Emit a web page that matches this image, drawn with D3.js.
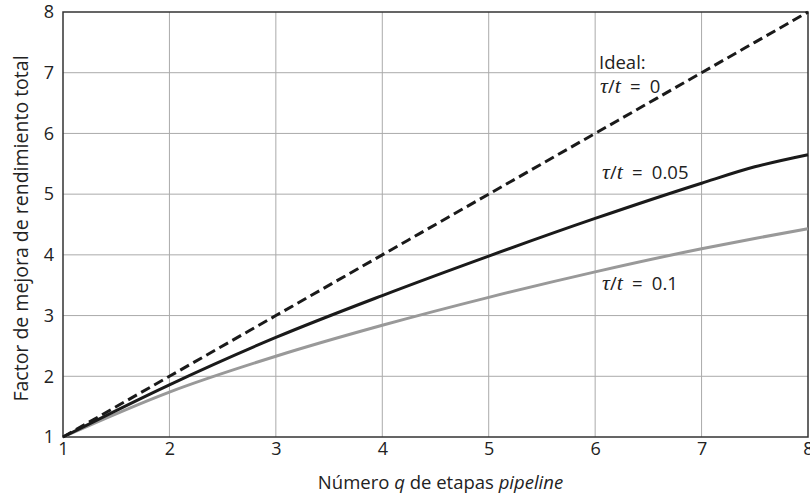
<!DOCTYPE html>
<html><head><meta charset="utf-8">
<script src="https://cdn.jsdelivr.net/npm/d3@7"></script>
<style>body{margin:0;background:#fff}svg{display:block}text{font-family:"Open Sans",Lato,sans-serif;fill:#222}</style>
</head><body><svg id="c" width="810" height="498"></svg>
<script>
const qValues = [1, 2, 3, 4, 5, 6, 7, 7.5, 8];
const ideal = [1, 2, 3, 4, 5, 6, 7, 7.5, 8];
const ratio005 = [1, 1.86, 2.64, 3.33, 3.98, 4.6, 5.18, 5.45, 5.65];
const ratio01 = [1, 1.74, 2.33, 2.84, 3.3, 3.72, 4.1, 4.27, 4.43];
const xTicks = [1, 2, 3, 4, 5, 6, 7, 8];
const yTicks = [1, 2, 3, 4, 5, 6, 7, 8];

const svg = d3.select("#c");
const m = {l: 63, r: 2, t: 12, b: 61};
const W = 810, H = 498;
const x = d3.scaleLinear().domain([1, 8]).range([m.l, W - m.r]);
const y = d3.scaleLinear().domain([1, 8]).range([H - m.b, m.t]);

// grid
svg.append("g").selectAll("line").data(xTicks.slice(1, -1)).join("line")
  .attr("x1", d => x(d)).attr("x2", d => x(d)).attr("y1", y(1)).attr("y2", y(8))
  .attr("stroke", "#aaa").attr("stroke-width", 1);
svg.append("g").selectAll("line").data(yTicks.slice(1, -1)).join("line")
  .attr("y1", d => y(d)).attr("y2", d => y(d)).attr("x1", x(1)).attr("x2", x(8))
  .attr("stroke", "#aaa").attr("stroke-width", 1);

// axes
const xa = svg.append("g").attr("transform", `translate(0,${y(1)})`)
  .call(d3.axisBottom(x).tickValues(xTicks).tickFormat(d3.format("d")).tickSize(0).tickPadding(5));
xa.select(".domain").remove();
xa.selectAll("text").attr("font-size", 18).style("font-family", "'Open Sans',sans-serif").attr("fill", "#222");
const ya = svg.append("g").attr("transform", `translate(${x(1)},0)`)
  .call(d3.axisLeft(y).tickValues(yTicks).tickFormat(d3.format("d")).tickSize(0).tickPadding(9));
ya.select(".domain").remove();
ya.selectAll("text").attr("font-size", 18).style("font-family", "'Open Sans',sans-serif").attr("fill", "#222");

// frame
svg.append("rect").attr("x", x(1)).attr("y", y(8)).attr("width", x(8) - x(1)).attr("height", y(1) - y(8))
  .attr("fill", "none").attr("stroke", "#333").attr("stroke-width", 1.5);

const line = vals => d3.line().x((d, i) => x(qValues[i])).y(d => y(d)).curve(d3.curveMonotoneX)(vals);

svg.append("path").attr("d", line(ratio01)).attr("fill", "none").attr("stroke", "#999").attr("stroke-width", 3);
svg.append("path").attr("d", line(ratio005)).attr("fill", "none").attr("stroke", "#1a1a1a").attr("stroke-width", 3);
svg.append("path").attr("d", line(ideal)).attr("fill", "none").attr("stroke", "#1a1a1a").attr("stroke-width", 3)
  .attr("stroke-dasharray", "10,5");

// labels
function tauLabel(xp, yp, val) {
  const t = svg.append("text").attr("x", xp).attr("y", yp).attr("font-size", 18.5);
  t.append("tspan").attr("font-style", "italic").attr("font-size", 22).style("font-family", "'Liberation Serif',serif").text("τ");
  t.append("tspan").text("/");
  t.append("tspan").attr("font-style", "italic").attr("font-size", 22).style("font-family", "'Liberation Serif',serif").text("t");
  t.append("tspan").text("\u2002=\u2002" + val);
}
svg.append("text").attr("x", 599).attr("y", 69).attr("font-size", 18.5).text("Ideal:");
tauLabel(600, 93, "0");
tauLabel(602, 179, "0.05");
tauLabel(602, 290, "0.1");

svg.append("text").attr("x", (x(1) + x(8)) / 2 + 5).attr("y", 489).attr("text-anchor", "middle").attr("font-size", 18.5)
  .html('Número <tspan font-style="italic">q</tspan> de etapas <tspan font-style="italic">pipeline</tspan>');
svg.append("text").attr("transform", `translate(28,${(y(1) + y(8)) / 2 + 4}) rotate(-90)`).attr("text-anchor", "middle")
  .attr("font-size", 19.5).text("Factor de mejora de rendimiento total");
</script></body></html>
